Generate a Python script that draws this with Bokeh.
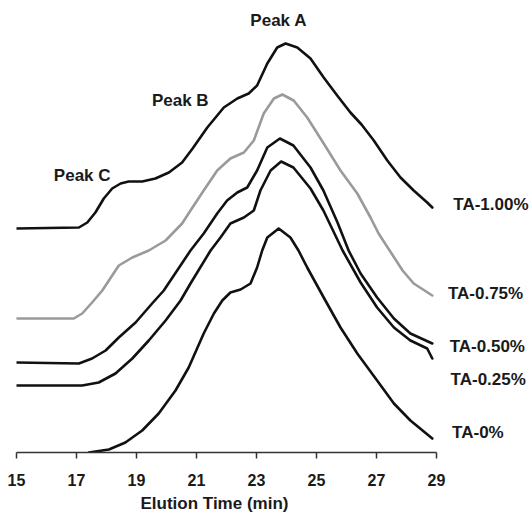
from bokeh.plotting import figure
from bokeh.models import Range1d, FixedTicker, Label, Title
from bokeh.embed import file_html
from bokeh.resources import INLINE

# ---- data (elution time in min, detector signal in arbitrary units) ----
t_100 = [15.00, 17.08, 17.36, 17.63, 17.91, 18.19, 18.47, 18.74, 19.19, 19.63, 20.08, 20.52,
         20.87, 21.36, 21.91, 22.36, 22.74, 23.02, 23.36, 23.69, 23.97, 24.36, 24.80, 25.24,
         25.69, 26.13, 26.50, 26.91, 27.36, 27.80, 28.24, 28.69, 28.86]
s_100 = [224, 225, 230, 240, 254, 264, 269, 271, 271, 274, 280, 290,
         304, 325, 345, 354, 359, 367, 389, 405, 409, 405, 394, 375,
         357, 340, 328, 312, 292, 275, 262, 250, 245]

t_075 = [15.00, 16.91, 17.19, 17.52, 17.86, 18.08, 18.41, 18.86, 19.41, 19.97, 20.52, 20.80,
         21.24, 21.69, 22.13, 22.58, 22.91, 23.24, 23.58, 23.86, 24.24, 24.69, 25.24, 25.80,
         26.36, 26.80, 27.07, 27.87, 28.24, 28.86]
s_075 = [134, 134, 139, 150, 162, 172, 187, 195, 202, 212, 229, 242,
         262, 282, 294, 300, 312, 339, 354, 358, 352, 335, 309, 282,
         259, 235, 219, 182, 169, 157]

t_050 = [15.00, 17.08, 17.52, 17.97, 18.41, 18.97, 19.52, 19.91, 20.80, 21.24, 21.69, 22.02,
         22.36, 22.69, 23.02, 23.36, 23.78, 24.23, 24.80, 25.23, 25.70, 26.07, 26.47, 27.02,
         27.58, 28.13, 28.86]
s_050 = [90, 89, 94, 102, 115, 130, 149, 162, 202, 219, 239, 252,
         260, 265, 282, 305, 314, 307, 285, 262, 230, 202, 179, 155,
         134, 119, 109]

t_025 = [15.00, 17.19, 17.74, 18.30, 18.86, 19.41, 19.97, 20.47, 20.80, 21.47, 21.80, 22.13,
         22.58, 22.91, 23.13, 23.47, 23.82, 24.23, 24.80, 25.23, 25.63, 25.87, 26.47, 27.02,
         27.58, 28.13, 28.69, 28.86]
s_025 = [67, 67, 70, 79, 94, 112, 132, 152, 169, 202, 215, 229,
         235, 242, 262, 282, 291, 285, 264, 242, 217, 202, 170, 145,
         125, 112, 104, 94]

t_000 = [17.41, 18.08, 18.63, 19.19, 19.74, 20.30, 20.74, 21.24, 21.58, 21.86, 22.13, 22.47,
         22.80, 23.02, 23.19, 23.36, 23.74, 24.13, 24.40, 24.69, 25.24, 25.80, 26.36, 27.02,
         27.58, 28.13, 28.86]
s_000 = [0, 3, 10, 22, 39, 62, 85, 119, 139, 152, 160, 163,
         169, 185, 202, 215, 224, 215, 202, 185, 155, 125, 99, 72,
         49, 32, 14]

series_names = ["TA-1.00%", "TA-0.75%", "TA-0.50%", "TA-0.25%", "TA-0%"]
series_colors = ["#111111", "#9a9a9a", "#111111", "#111111", "#111111"]

peak_names = ["Peak A", "Peak B", "Peak C"]

x_ticks = [15, 17, 19, 21, 23, 25, 27, 29]
x_title = "Elution Time (min)"

FONT = "Liberation Sans"
TXT = "#1a1a1a"

p = figure(frame_width=513, frame_height=452, output_backend="svg", toolbar_location=None,
           x_range=Range1d(15, 32.1), y_range=Range1d(0, 452),
           min_border_left=16, min_border_right=0, min_border_top=0, min_border_bottom=0)
p.outline_line_color = None
p.grid.visible = False
p.yaxis.visible = False
p.background_fill_color = "white"

ax = p.xaxis[0]
ax.ticker = FixedTicker(ticks=x_ticks)
ax.bounds = (15, 29)
ax.axis_line_width = 1.5
ax.axis_line_color = "#333333"
ax.major_tick_in = 0
ax.major_tick_out = 6
ax.major_tick_line_width = 1.5
ax.major_tick_line_color = "#333333"
ax.minor_tick_line_color = None
ax.major_label_text_font = FONT
ax.major_label_text_font_style = "bold"
ax.major_label_text_font_size = "16px"
ax.major_label_text_color = TXT
ax.major_label_standoff = 15

# axis title, placed under the 15-29 axis span as in the original
p.add_layout(Title(text=x_title, align="left", offset=124, standoff=6,
                   text_font=FONT, text_font_style="bold", text_font_size="17px",
                   text_color=TXT), "below")

curves = [(t_100, s_100), (t_075, s_075), (t_050, s_050), (t_025, s_025), (t_000, s_000)]
for (t, s), c in zip(curves, series_colors):
    p.line(t, s, line_color=c, line_width=2.6, line_join="round", line_cap="round")

# series labels at right end
label_pos = [(29.56, 248), (29.38, 159), (29.44, 106), (29.47, 73), (29.52, 20)]
for name, (lx, ly) in zip(series_names, label_pos):
    p.add_layout(Label(x=lx, y=ly, text=name, text_font=FONT, text_font_style="bold",
                       text_font_size="17px", text_color=TXT, text_baseline="middle"))

peak_pos = [(23.74, 432), (20.46, 352), (17.19, 277)]
for name, (lx, ly) in zip(peak_names, peak_pos):
    p.add_layout(Label(x=lx, y=ly, text=name, text_font=FONT, text_font_style="bold",
                       text_font_size="17px", text_color=TXT, text_align="center",
                       text_baseline="middle"))

open("out.html", "w").write(file_html(p, INLINE))
